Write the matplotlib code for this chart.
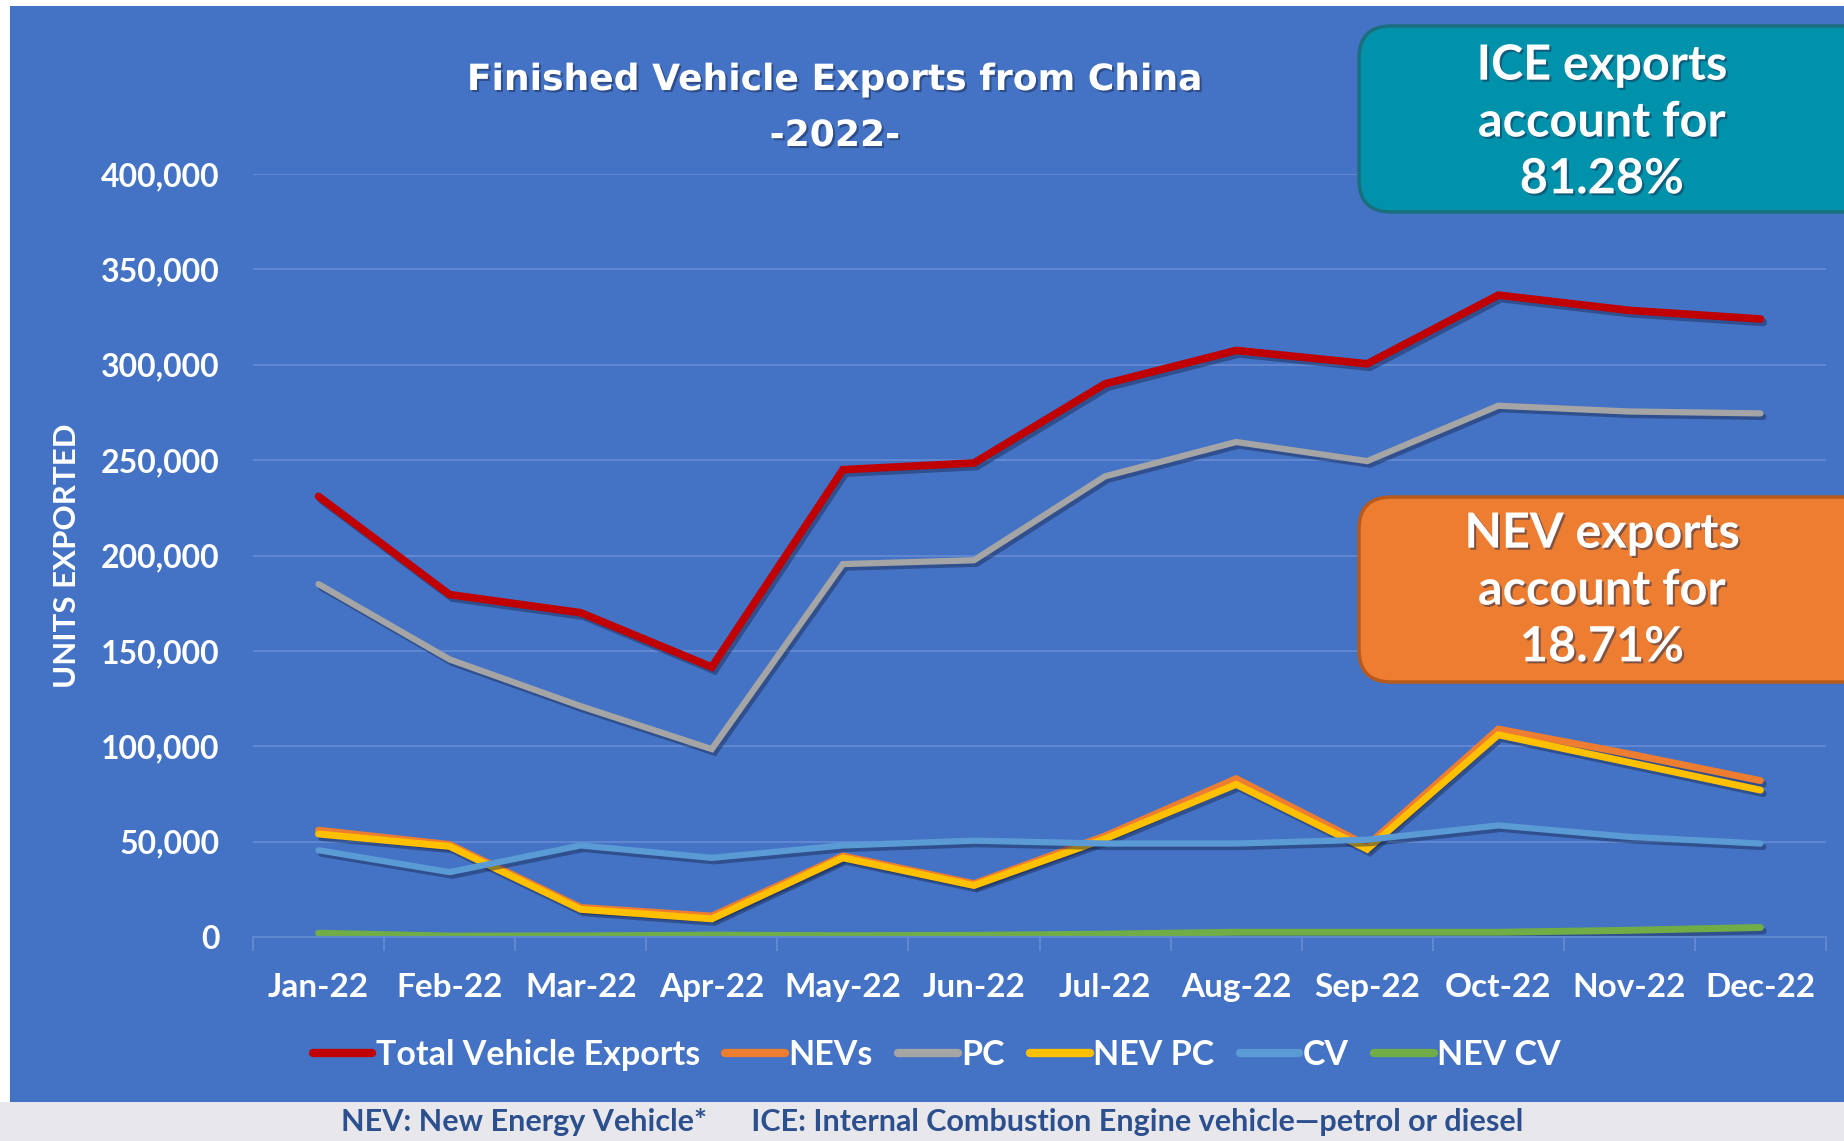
import matplotlib.pyplot as plt
import matplotlib.patheffects as pe
from matplotlib.patches import FancyBboxPatch, Rectangle
from matplotlib.transforms import IdentityTransform
import numpy as np

months = ["Jan-22", "Feb-22", "Mar-22", "Apr-22", "May-22", "Jun-22",
          "Jul-22", "Aug-22", "Sep-22", "Oct-22", "Nov-22", "Dec-22"]

total = [231000, 179500, 170000, 141500, 245000, 248500,
         290000, 307500, 300500, 336500, 328500, 324000]
nevs = [56000, 48500, 15500, 11000, 42500, 28000,
        53000, 83000, 48000, 109000, 96000, 82000]
pc = [185000, 145500, 121000, 98500, 195500, 197500,
      241500, 259500, 249500, 278500, 275500, 274500]
nev_pc = [54000, 47500, 14500, 9500, 41500, 27000,
          51500, 80000, 46000, 106000, 91500, 77000]
cv = [45500, 34000, 48000, 41500, 48000, 50500,
      49000, 49000, 51000, 58500, 52500, 49000]
nev_cv = [2000, 500, 600, 1000, 700, 900,
          1500, 2500, 2500, 2500, 3500, 5000]

series = [
    ("Total Vehicle Exports", total, "#C00000", 5.5),
    ("NEVs", nevs, "#ED7D31", 5.0),
    ("PC", pc, "#A5A5A5", 4.5),
    ("NEV PC", nev_pc, "#FFC000", 5.0),
    ("CV", cv, "#5B9BD5", 4.5),
    ("NEV CV", nev_cv, "#70AD47", 5.0),
]

plt.rcParams['font.family'] = ['Lato', 'DejaVu Sans']
bg = "#4472C4"
grid_c = "#5F88D0"

fig = plt.figure(figsize=(18.44, 11.41), dpi=100, facecolor="white")
fig.patches.append(Rectangle((10 / 1844, 1 - 1102 / 1141), 1, (1096 / 1141),
                             transform=fig.transFigure, facecolor=bg,
                             edgecolor="none", zorder=-10))
fig.patches.append(Rectangle((0, 0), 1, 1 - 1102 / 1141,
                             transform=fig.transFigure, facecolor="#E8E7EC",
                             edgecolor="none", zorder=-10))

ax = fig.add_axes([253 / 1844, 1 - 937 / 1141, (1826 - 253) / 1844, (937 - 174) / 1141])
ax.set_facecolor("none")

x = np.arange(len(months))
shadow = [pe.SimpleLineShadow(offset=(2, -2.5), shadow_color="#16264d", alpha=0.45),
          pe.Normal()]
for name, vals, col, lw in series:
    ax.plot(x, vals, color=col, lw=lw, label=name, solid_capstyle="round",
            solid_joinstyle="miter", path_effects=shadow)

ax.set_xlim(-0.5, 11.5)
ax.set_ylim(0, 400000)
ax.set_yticks(np.arange(0, 400001, 50000))
ax.set_yticklabels([f"{int(v):,}" for v in np.arange(0, 400001, 50000)])
ax.set_xticks(x)
ax.set_xticklabels(months)
ax.set_xticks(np.arange(-0.5, 12, 1), minor=True)
ax.tick_params(axis="x", which="major", length=0, pad=26, labelsize=24,
               labelcolor="white")
ax.tick_params(axis="x", which="minor", length=10, width=1.5, color=grid_c)
ax.tick_params(axis="y", length=0, pad=24, labelsize=23, labelcolor="white")
for lab in ax.get_xticklabels() + ax.get_yticklabels():
    lab.set_fontweight("bold")

ax.grid(axis="y", color=grid_c, lw=1.5)
ax.set_axisbelow(True)
for s in ["top", "right", "left"]:
    ax.spines[s].set_visible(False)
ax.spines["bottom"].set_color(grid_c)
ax.spines["bottom"].set_linewidth(1.5)

txt_shadow = [pe.withSimplePatchShadow(offset=(1.5, -1.5), shadow_rgbFace="#1a2a50", alpha=0.5)]

fig.text(835 / 1844, 1 - 80 / 1141, "Finished Vehicle Exports from China",
         ha="center", va="center", fontsize=26, fontweight="bold", color="white",
         family="DejaVu Sans", path_effects=txt_shadow)
fig.text(835 / 1844, 1 - 136 / 1141, "-2022-", ha="center", va="center",
         fontsize=26, fontweight="bold", color="white", family="DejaVu Sans",
         path_effects=txt_shadow)

fig.text(67 / 1844, 1 - 556 / 1141, "UNITS EXPORTED", rotation=90, ha="center",
         va="center", fontsize=22.5, fontweight="bold", color="white")

# annotation boxes
boxes = [
    ((1359, 929), 520, 186, "#0092AB", "#1B6E7E", "ICE exports\naccount for\n81.28%", 1019),
    ((1359, 459), 520, 185, "#ED7D31", "#B85A1C", "NEV exports\naccount for\n18.71%", 551),
]
for (bx, by), bw, bh, fc, ec, label, ty in boxes:
    fig.patches.append(FancyBboxPatch((bx, by), bw, bh,
                                      boxstyle="round,pad=0,rounding_size=32",
                                      transform=IdentityTransform(), facecolor=fc,
                                      edgecolor=ec, lw=2.5, zorder=5))
    fig.text(1602 / 1844, ty / 1141, label, ha="center", va="center",
             fontsize=35, fontweight="bold", color="white", linespacing=1.32,
             path_effects=txt_shadow, zorder=6)

leg = fig.legend(loc="center", bbox_to_anchor=(0.508, 1 - 1055 / 1141), ncol=6,
                 frameon=False, fontsize=24.5, handlelength=1.75, handletextpad=0.1,
                 columnspacing=0.75)
for t in leg.get_texts():
    t.set_color("white")
    t.set_fontweight("bold")
for h in leg.get_lines():
    h.set_linewidth(6)
    h.set_path_effects([])

fig.text(932 / 1844, 19 / 1141,
         "NEV: New Energy Vehicle*      ICE: Internal Combustion Engine vehicle\u2014petrol or diesel",
         ha="center", va="center", fontsize=22, fontweight="bold", color="#2C4F8E")

fig.savefig("out.png", dpi=100, facecolor=fig.get_facecolor())
